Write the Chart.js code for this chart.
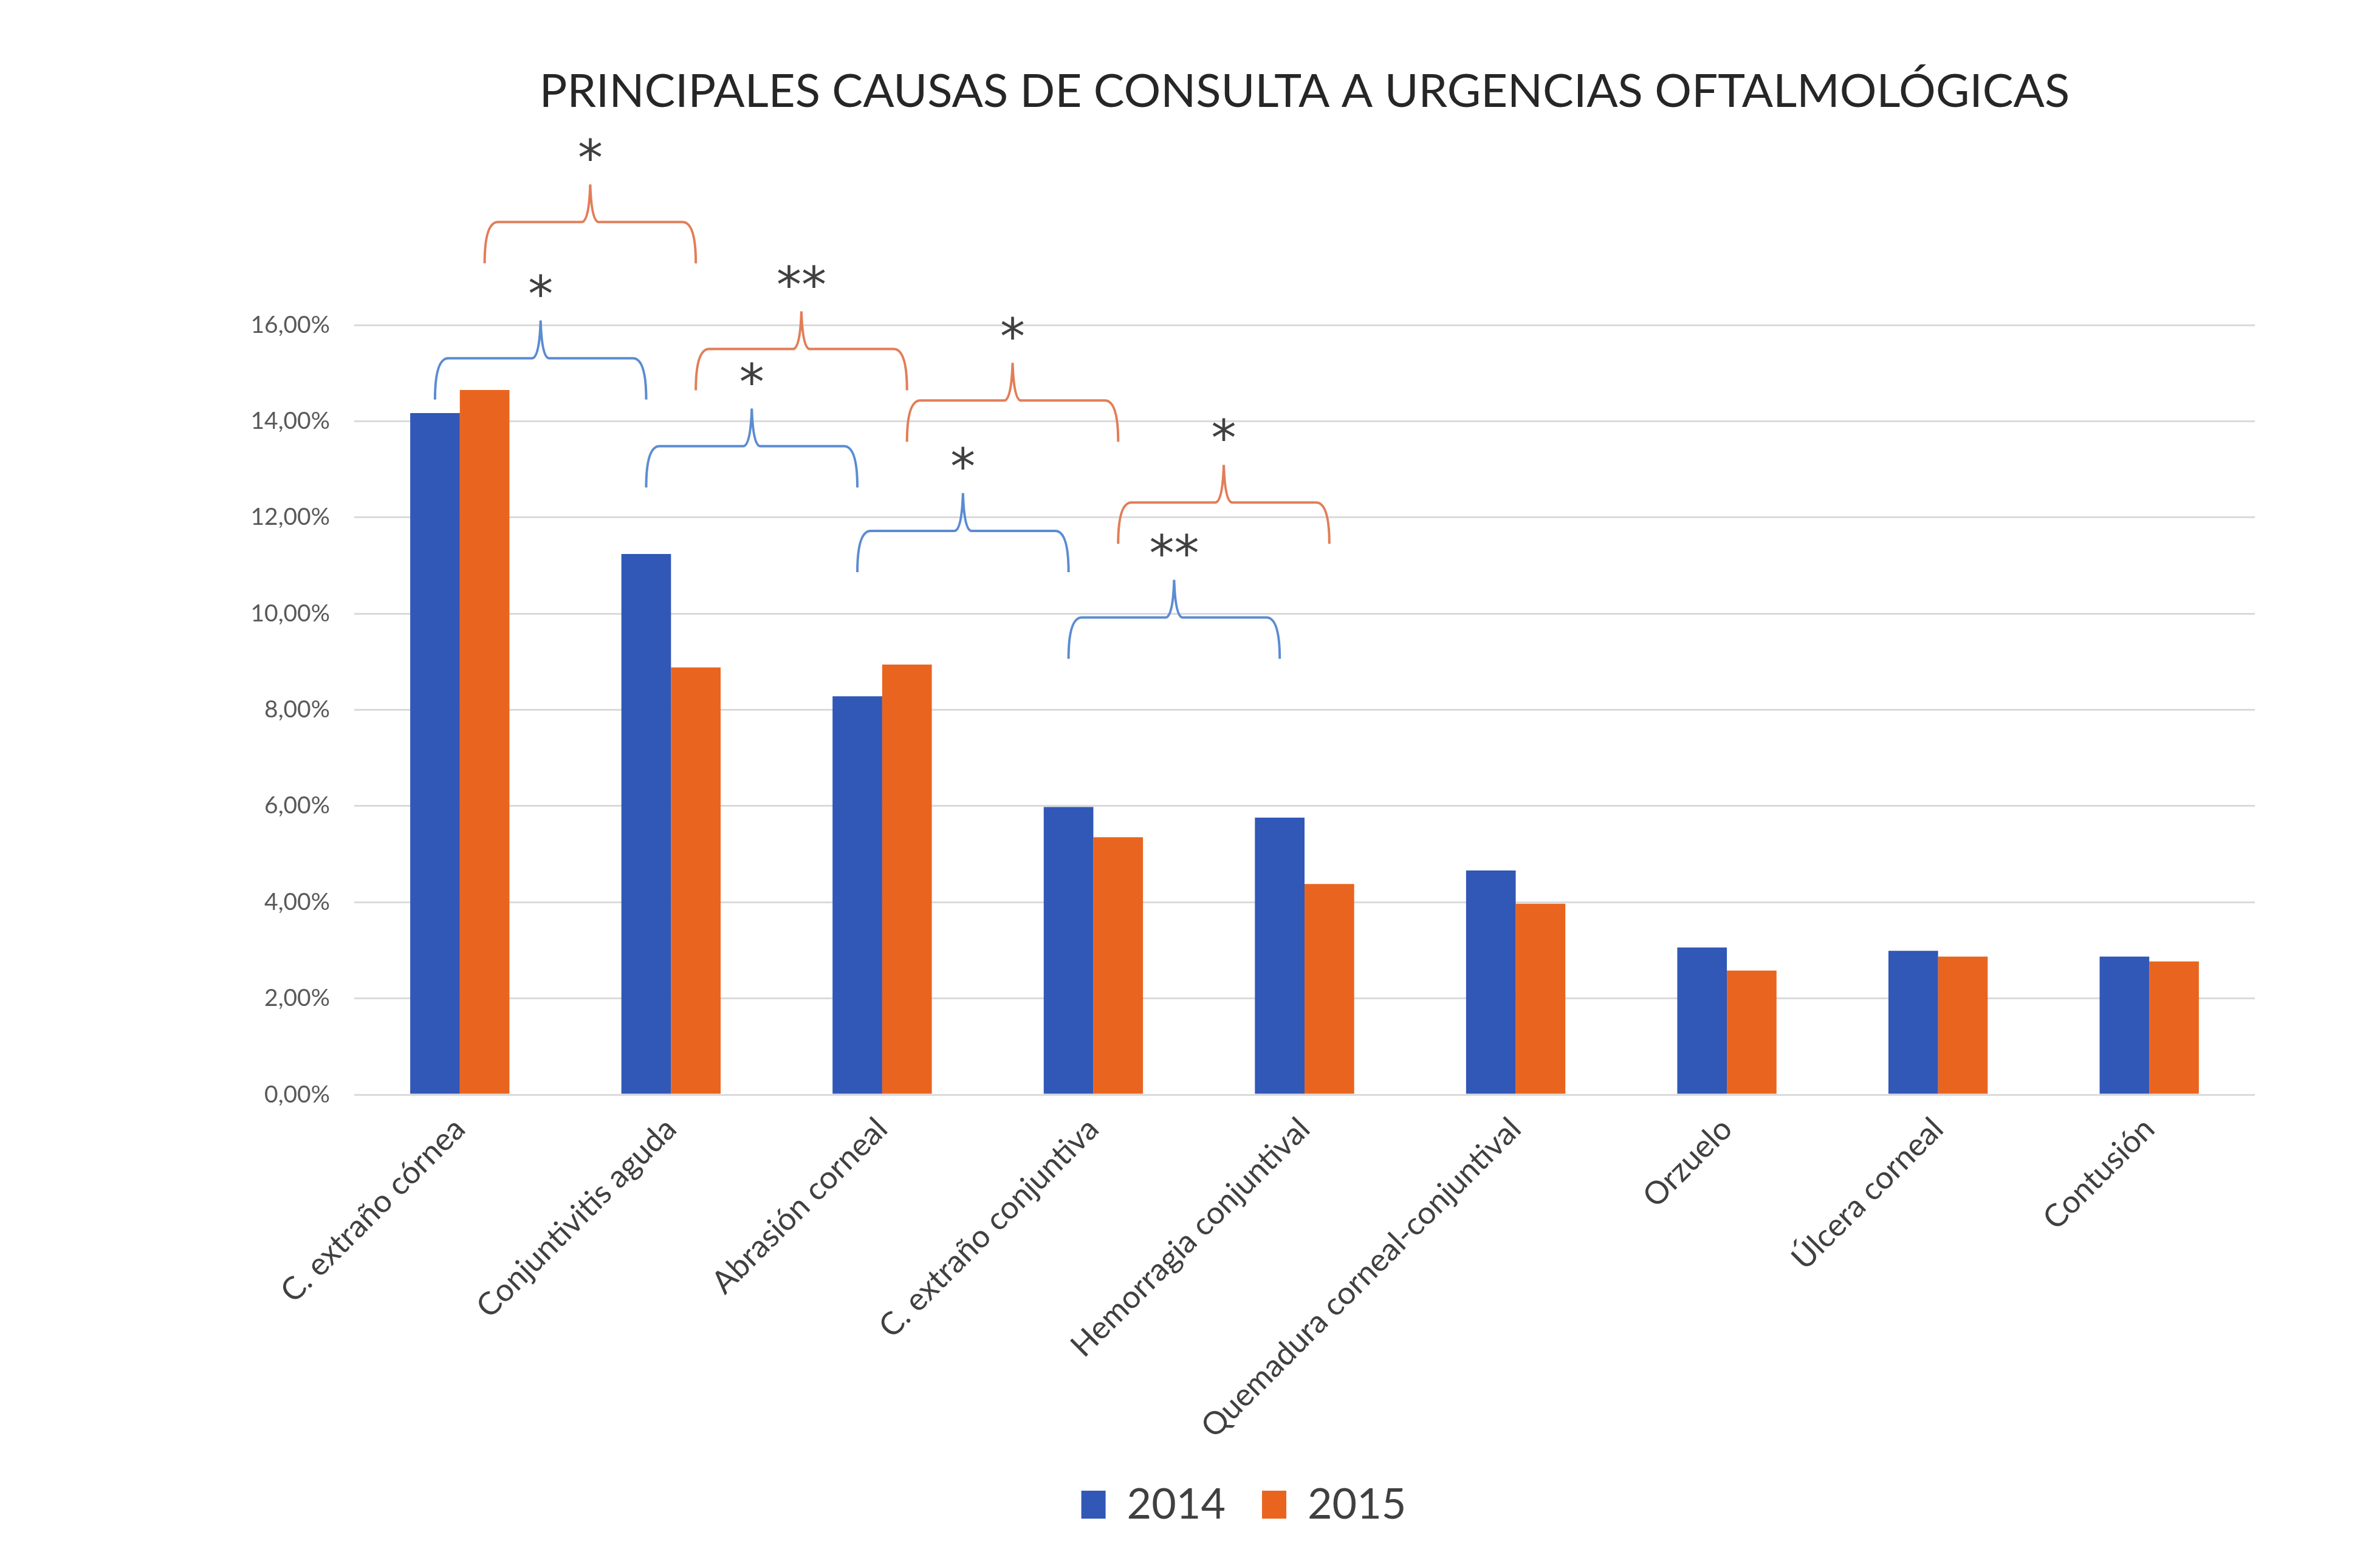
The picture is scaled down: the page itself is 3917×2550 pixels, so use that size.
<!DOCTYPE html>
<html>
<head>
<meta charset="utf-8">
<script src="https://cdn.jsdelivr.net/npm/chart.js@4.4.1/dist/chart.umd.min.js"></script>
<style>
html, body { margin: 0; padding: 0; background: #fff; }
</style>
</head>
<body>
<canvas id="barChart" width="3917" height="2550"></canvas>
<script>
const causas = ["C. extraño córnea", "Conjuntivitis aguda", "Abrasión corneal", "C. extraño conjuntiva",
    "Hemorragia conjuntival", "Quemadura corneal-conjuntival", "Orzuelo", "Úlcera corneal", "Contusión"];
const valores2014 = [14.17, 11.24, 8.28, 5.98, 5.76, 4.66, 3.06, 2.99, 2.87];
const valores2015 = [14.65, 8.88, 8.94, 5.35, 4.38, 3.97, 2.58, 2.87, 2.77];
const yTicks = [0, 2, 4, 6, 8, 10, 12, 14, 16];

// comparaciones entre causas vecinas (serie 0 = 2014, 1 = 2015)
const compSerie = [0, 1, 0, 1, 0, 1, 0, 1];
const compDesde = [0, 0, 1, 1, 2, 2, 3, 3];
const compNivel = [15.31, 18.14, 13.48, 15.50, 11.72, 14.43, 9.92, 12.31];
const compSignif = ["*", "*", "*", "**", "*", "*", "**", "*"];

const titulo = 'PRINCIPALES CAUSAS DE CONSULTA A URGENCIAS OFTALMOLÓGICAS';

const AZUL = "#3157B7";
const NARANJA = "#E9651F";
const llaveColor = ["#5B8CD2", "#E27D58"];

const llaves = {
    id: 'llaves',
    afterDatasetsDraw(chart) {
        const ctx = chart.ctx;
        const y = chart.scales.y;
        ctx.save();
        ctx.lineWidth = 4;
        for (let i = 0; i < compSerie.length; i++) {
            const meta = chart.getDatasetMeta(compSerie[i]);
            const x1 = meta.data[compDesde[i]].x;
            const x2 = meta.data[compDesde[i] + 1].x;
            const xm = (x1 + x2) / 2;
            const yl = y.getPixelForValue(compNivel[i]);
            const pata = 68, punta = 62, r = 22;
            ctx.strokeStyle = llaveColor[compSerie[i]];
            ctx.beginPath();
            ctx.moveTo(x1, yl + pata);
            ctx.quadraticCurveTo(x1, yl, x1 + r, yl);
            ctx.lineTo(xm - 14, yl);
            ctx.quadraticCurveTo(xm - 2, yl, xm, yl - punta);
            ctx.quadraticCurveTo(xm + 2, yl, xm + 14, yl);
            ctx.lineTo(x2 - r, yl);
            ctx.quadraticCurveTo(x2, yl, x2, yl + pata);
            ctx.stroke();

            ctx.fillStyle = "#404040";
            ctx.font = "82px 'DejaVu Sans'";
            ctx.textAlign = "center";
            ctx.textBaseline = "middle";
            ctx.fillText(compSignif[i], xm, yl - 98);
        }
        ctx.restore();
    },
    afterDraw(chart) {
        // título centrado sobre el área de trazado
        const ctx = chart.ctx;
        const a = chart.chartArea;
        ctx.save();
        ctx.fillStyle = "#262626";
        ctx.font = "76px Lato";
        ctx.textAlign = "center";
        ctx.textBaseline = "middle";
        ctx.fillText(titulo, (a.left + a.right) / 2, 151);
        ctx.restore();
    }
};

new Chart(document.getElementById("barChart"), {
    type: 'bar',
    data: {
        labels: causas,
        datasets: [
            { label: "2014", data: valores2014, backgroundColor: AZUL },
            { label: "2015", data: valores2015, backgroundColor: NARANJA }
        ]
    },
    options: {
        responsive: false,
        animation: false,
        devicePixelRatio: 1,
        layout: { padding: { left: 383, right: 206, top: 535, bottom: 28 } },
        datasets: { bar: { categoryPercentage: 0.47, barPercentage: 1.0 } },
        scales: {
            x: {
                grid: { display: false },
                border: { display: false },
                ticks: {
                    autoSkip: false,
                    minRotation: 45,
                    maxRotation: 45,
                    padding: 18,
                    color: "#404040",
                    font: { family: "Lato", size: 52 }
                },
                afterFit(s) { s.height = 580; }
            },
            y: {
                min: 0,
                max: 16,
                afterBuildTicks(s) { s.ticks = yTicks.map(v => ({ value: v })); },
                grid: { color: "#DADADA", lineWidth: 3, drawTicks: false },
                border: { display: false },
                ticks: {
                    padding: 40,
                    color: "#595959",
                    font: { family: "Lato", size: 39 },
                    callback: v => v.toFixed(2).replace('.', ',') + '%'
                },
                afterFit(s) { s.width = 200; }
            }
        },
        plugins: {
            legend: {
                position: 'bottom',
                labels: {
                    boxWidth: 40,
                    boxHeight: 46,
                    padding: 60,
                    color: "#404040",
                    font: { family: "Lato", size: 70 }
                }
            },
            title: { display: false },
            tooltip: { enabled: false }
        }
    },
    plugins: [llaves]
});
</script>
</body>
</html>
